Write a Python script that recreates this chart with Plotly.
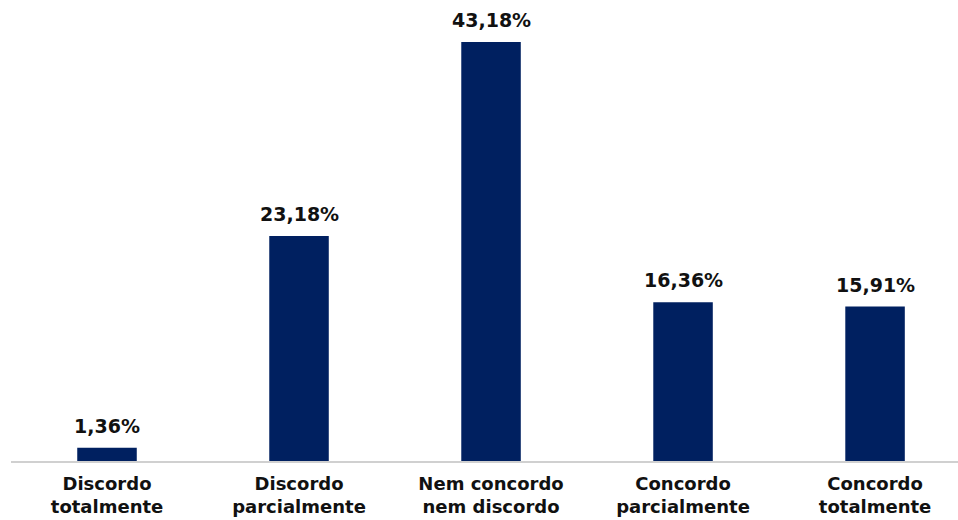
import plotly.graph_objects as go

categories = ["Discordo<br>totalmente", "Discordo<br>parcialmente", "Nem concordo<br>nem discordo",
              "Concordo<br>parcialmente", "Concordo<br>totalmente"]
values = [1.36, 23.18, 43.18, 16.36, 15.91]
labels = ["1,36%", "23,18%", "43,18%", "16,36%", "15,91%"]

x = list(range(len(categories)))
FONT = "DejaVu Sans, Verdana, sans-serif"

fig = go.Figure(go.Bar(x=x, y=values, marker=dict(color="#002060", line=dict(width=0)),
                       width=0.31, hoverinfo="skip"))

for xi, v, t in zip(x, values, labels):
    fig.add_annotation(x=xi, y=v, text="<b>%s</b>" % t, showarrow=False, yanchor="bottom",
                       yshift=9, font=dict(family=FONT, size=19, color="#111111"))

fig.update_layout(
    width=958, height=520, margin=dict(l=11, r=0, t=0, b=59),
    paper_bgcolor="white", plot_bgcolor="white", showlegend=False,
    xaxis=dict(range=[-0.5, 4.432], tickmode="array", tickvals=x,
               ticktext=["<b>%s</b>" % c for c in categories],
               tickfont=dict(family=FONT, size=18, color="#111111"),
               ticklabelstandoff=5,
               showline=True, linecolor="#d0d0d0", linewidth=2, showgrid=False,
               ticks="", zeroline=False, fixedrange=True),
    yaxis=dict(range=[0, 47.5], visible=False, showgrid=False, zeroline=False, fixedrange=True),
)

fig.write_html("out.html")
